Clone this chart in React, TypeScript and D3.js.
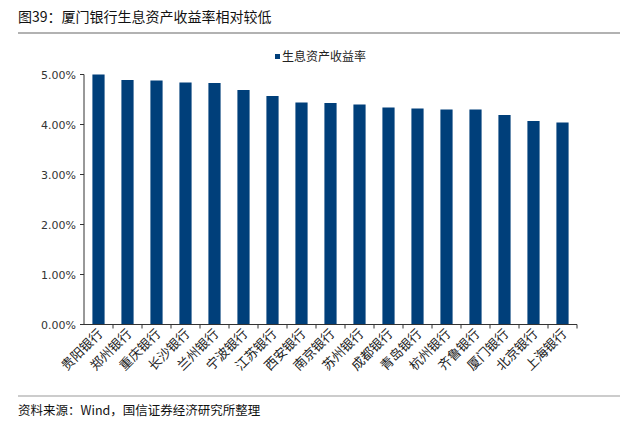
import React from "react";
import * as d3 from "d3";

const categories = ["贵阳银行","郑州银行","重庆银行","长沙银行","兰州银行","宁波银行","江苏银行","西安银行","南京银行","苏州银行","成都银行","青岛银行","杭州银行","齐鲁银行","厦门银行","北京银行","上海银行"];
const values = [5.0,4.89,4.88,4.84,4.83,4.69,4.57,4.44,4.43,4.40,4.34,4.32,4.30,4.30,4.19,4.07,4.04];
const yTicks = [0,1,2,3,4,5];
const seriesName = "生息资产收益率";
const title = "图39：厦门银行生息资产收益率相对较低";
const source = "资料来源：Wind，国信证券经济研究所整理";

export default function App() {
  const W = 638, H = 441;
  const left = 84, right = 577, top = 74.5, bottom = 324.5;
  const x = d3.scaleBand<string>().domain(categories).range([left, right]).paddingInner(0.58).paddingOuter(0.29);
  const y = d3.scaleLinear().domain([0, 5]).range([bottom, top]);
  const font = "'Noto Sans CJK SC', 'DejaVu Sans', sans-serif";
  const band = (right - left) / categories.length;
  return (
    <svg width={W} height={H} style={{ position: "absolute", left: 0, top: 0, background: "#fff" }} fontFamily={font}>
      <text x={18} y={22} fontSize={14} fill="#111">{title}</text>
      <line x1={18} x2={620} y1={33} y2={33} stroke="#999" strokeWidth={1.5} />
      <rect x={275} y={54} width={5} height={5} fill="#003f7a" />
      <text x={282} y={61} fontSize={12} fill="#222">{seriesName}</text>
      {categories.map((c, i) => (
        <rect key={c} x={x(c)} y={y(values[i])} width={x.bandwidth()} height={bottom - y(values[i])} fill="#003f7a" />
      ))}
      <line x1={left} x2={left} y1={top} y2={bottom} stroke="#333" />
      <line x1={left} x2={right} y1={bottom} y2={bottom} stroke="#333" />
      {yTicks.map(t => (
        <g key={t}>
          <line x1={left - 4} x2={left} y1={y(t)} y2={y(t)} stroke="#333" />
          <text x={76} y={y(t) + 4} fontSize={11} textAnchor="end" fill="#333" fontFamily="'DejaVu Sans', sans-serif">{t.toFixed(2) + "%"}</text>
        </g>
      ))}
      {categories.map((c, i) => (
        <line key={c} x1={left + band * (i + 1)} x2={left + band * (i + 1)} y1={bottom} y2={bottom + 4} stroke="#333" />
      ))}
      {categories.map((c) => {
        const cx = (x(c) as number) + x.bandwidth() / 2 + 5;
        const cy = bottom + 10;
        return (
          <text key={c} x={cx} y={cy} fontSize={13} textAnchor="end" fill="#222" transform={`rotate(-45 ${cx} ${cy})`}>{c}</text>
        );
      })}
      <line x1={18} x2={620} y1={396} y2={396} stroke="#999" strokeWidth={1} />
      <text x={18} y={415} fontSize={12.5} fill="#111">{source}</text>
    </svg>
  );
}
